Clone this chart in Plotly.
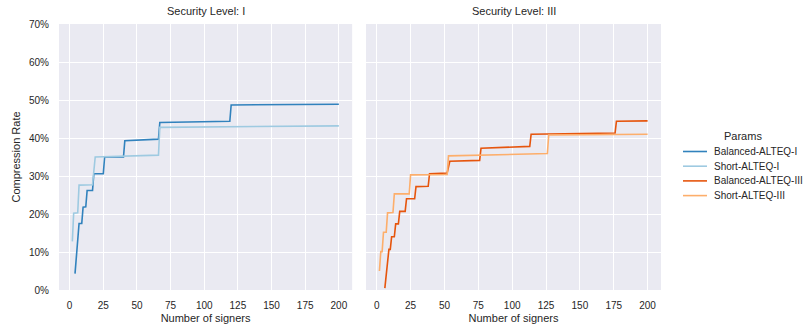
import plotly.graph_objects as go
from plotly.subplots import make_subplots

# ---- data (knot points; percent) ----
bal_I_n = [4, 7, 9, 10, 12, 13, 17, 18, 25, 26, 40, 41, 66, 67, 119, 120, 200]
bal_I_v = [4.3, 17.5, 17.5, 21.8, 21.9, 26.2, 26.2, 30.6, 30.6, 35.0, 35.0, 39.3, 39.7, 44.1, 44.4, 48.7, 48.9]

short_I_n = [2, 3, 6, 7, 17, 19, 66, 67, 200]
short_I_v = [12.8, 20.2, 20.3, 27.6, 27.7, 35.0, 35.5, 42.8, 43.2]

bal_III_n = [6, 9, 10, 11, 13, 14, 16, 17, 21, 22, 28, 29, 38, 39, 52, 54, 76, 77, 113, 114, 176, 177, 200]
bal_III_v = [0.5, 10.7, 10.7, 14.0, 14.0, 17.4, 17.4, 20.7, 20.7, 24.0, 24.0, 27.2, 27.3, 30.6, 30.8, 33.9, 34.1, 37.3, 37.8, 41.0, 41.3, 44.4, 44.5]

short_III_n = [2, 3, 4, 5, 7, 8, 12, 13, 24, 25, 52, 53, 126, 127, 200]
short_III_v = [5.0, 10.1, 10.1, 15.2, 15.2, 20.3, 20.4, 25.3, 25.3, 30.3, 30.4, 35.3, 35.9, 40.8, 41.0]

series_names = ["Balanced-ALTEQ-I", "Short-ALTEQ-I", "Balanced-ALTEQ-III", "Short-ALTEQ-III"]
series_colors = ["#3182bd", "#9ecae1", "#e6550d", "#fdae6b"]
panel_titles = ["Security Level: I", "Security Level: III"]
legend_title = "Params"
x_ticks = [0, 25, 50, 75, 100, 125, 150, 175, 200]
y_ticks = [0, 10, 20, 30, 40, 50, 60, 70]
y_tick_text = [f"{v}%" for v in y_ticks]

FONT = "Liberation Sans, Arial, sans-serif"
TXT = "#262626"

# layout geometry (pixels)
W, H = 806, 331
ML, MR, MT, MB = 59, 145, 24, 41
PW = W - ML - MR
PH = H - MT - MB


def px_x(px):
    return (px - ML) / PW


def px_y(py):
    return (H - MB - py) / PH


fig = make_subplots(rows=1, cols=2, shared_yaxes=True, horizontal_spacing=0.023)

data = [
    (bal_I_n, bal_I_v, 1),
    (short_I_n, short_I_v, 1),
    (bal_III_n, bal_III_v, 2),
    (short_III_n, short_III_v, 2),
]
for (xs, ys, col), name, color in zip(data, series_names, series_colors):
    fig.add_trace(go.Scatter(x=xs, y=ys, mode="lines", name=name, showlegend=False,
                             line=dict(color=color, width=1.6)), row=1, col=col)

for c in (1, 2):
    fig.update_xaxes(range=[-7.9, 209.9], tickvals=x_ticks, showgrid=True, automargin=False,
                     gridcolor="white", gridwidth=1, zeroline=False, showline=False,
                     ticks="", tickfont=dict(size=10, color=TXT, family=FONT),
                     ticklabelstandoff=8,
                     title=dict(text="Number of signers", font=dict(size=11, color=TXT, family=FONT),
                                standoff=4),
                     row=1, col=c)
    fig.update_yaxes(range=[0, 70], tickvals=y_ticks, ticktext=y_tick_text, showgrid=True,
                     automargin=False,
                     gridcolor="white", gridwidth=1, zeroline=False, showline=False,
                     ticks="", tickfont=dict(size=10, color=TXT, family=FONT),
                     row=1, col=c)
fig.update_yaxes(ticklabelstandoff=9,
                 title=dict(text="Compression Rate", font=dict(size=11, color=TXT, family=FONT),
                            standoff=6), row=1, col=1)

fig.layout.xaxis.domain = [0, 0.487]
fig.layout.xaxis2.domain = [0.510, 1.0]

annotations = []
for title, dom in zip(panel_titles, [fig.layout.xaxis.domain, fig.layout.xaxis2.domain]):
    annotations.append(dict(text=title, x=(dom[0] + dom[1]) / 2, y=1.0, xref="paper", yref="paper",
                            xanchor="center", yanchor="bottom", yshift=5, showarrow=False,
                            font=dict(size=11, color=TXT, family=FONT)))

# custom legend (compact spacing like the reference)
annotations.append(dict(text=legend_title, x=px_x(743), y=px_y(136), xref="paper", yref="paper",
                        xanchor="center", yanchor="middle", showarrow=False,
                        font=dict(size=11, color=TXT, family=FONT)))
shapes = []
entry_y = [151.5, 166.2, 180.9, 195.6]
for name, color, ey in zip(series_names, series_colors, entry_y):
    annotations.append(dict(text=name, x=px_x(712), y=px_y(ey), xref="paper", yref="paper",
                            xanchor="left", yanchor="middle", showarrow=False,
                            font=dict(size=10, color=TXT, family=FONT)))
    shapes.append(dict(type="line", xref="paper", yref="paper",
                       x0=px_x(683), x1=px_x(707), y0=px_y(ey), y1=px_y(ey),
                       line=dict(color=color, width=1.6)))

fig.update_layout(annotations=annotations, shapes=shapes)

fig.update_layout(
    width=W, height=H,
    margin=dict(l=ML, r=MR, t=MT, b=MB),
    paper_bgcolor="white", plot_bgcolor="#EAEAF2",
    font=dict(family=FONT, color=TXT, size=10),
    showlegend=False,
)

fig.write_html("out.html",
               config={"displayModeBar": False},
               post_script="document.body.style.margin='0px';document.body.style.overflow='hidden';")
